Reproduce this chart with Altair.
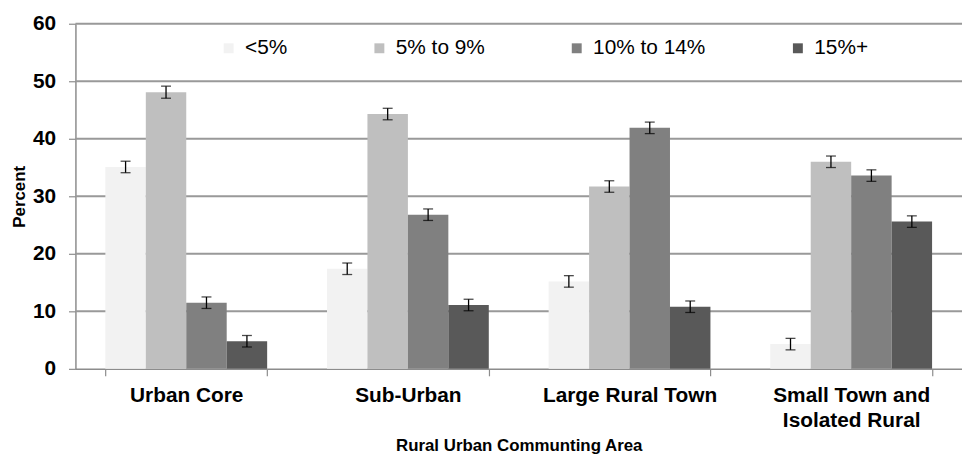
import altair as alt
import pandas as pd

categories = ["Urban Core", "Sub-Urban", "Large Rural Town", "Small Town and Isolated Rural"]
series = ["<5%", "5% to 9%", "10% to 14%", "15%+"]
colors = ["#f2f2f2", "#bfbfbf", "#808080", "#595959"]
y_ticks = [0, 10, 20, 30, 40, 50, 60]

values = {
    "<5%": [35.1, 17.4, 15.2, 4.3],
    "5% to 9%": [48.1, 44.3, 31.7, 36.0],
    "10% to 14%": [11.5, 26.8, 41.9, 33.6],
    "15%+": [4.8, 11.1, 10.8, 25.6],
}
errors = {
    "<5%": [1.0, 1.0, 1.0, 1.0],
    "5% to 9%": [1.05, 1.0, 1.0, 1.0],
    "10% to 14%": [1.0, 1.0, 1.0, 1.0],
    "15%+": [1.0, 1.0, 1.0, 1.0],
}

rows = []
for s in series:
    for c, v, e in zip(categories, values[s], errors[s]):
        rows.append({"area": c, "group": s, "value": v, "lo": v - e, "hi": v + e})
df = pd.DataFrame(rows)
grid_df = pd.DataFrame({"tick": y_ticks[1:]})

FONT = "Liberation Sans"
PLOT_W = 894
PLOT_H = 348

x = alt.X(
    "area:N",
    sort=categories,
    scale=alt.Scale(paddingInner=0.27, paddingOuter=0.135),
    axis=alt.Axis(
        title="Rural Urban Communting Area",
        labelAngle=0,
        labelFont=FONT,
        labelFontSize=21,
        labelFontWeight="bold",
        labelColor="black",
        labelLimit=400,
        labelExpr="datum.value == 'Small Town and Isolated Rural' ? ['Small Town and', 'Isolated Rural'] : datum.label",
        labelLineHeight=25,
        labelPadding=9,
        tickBand="extent",
        tickSize=7,
        tickColor="#8c8c8c",
        tickWidth=1.2,
        domainColor="#8c8c8c",
        domainWidth=1.5,
        titleFont=FONT,
        titleFontSize=17,
        titleFontWeight="bold",
        titleColor="black",
        titlePadding=7,
        grid=False,
    ),
)
xo = alt.XOffset("group:N", sort=series, scale=alt.Scale(paddingInner=0, paddingOuter=0))

yaxis = alt.Axis(
    title="Percent",
    values=y_ticks,
    grid=False,
    labelFont=FONT,
    labelFontSize=21,
    labelFontWeight="bold",
    labelColor="black",
    labelPadding=13,
    tickSize=7,
    tickColor="#8c8c8c",
    tickWidth=1.2,
    domainColor="#8c8c8c",
    domainWidth=1.5,
    titleFont=FONT,
    titleFontSize=17,
    titleFontWeight="bold",
    titleColor="black",
    titlePadding=4,
)
yscale = alt.Scale(domain=[0, 60])

color = alt.Color(
    "group:N",
    sort=series,
    scale=alt.Scale(domain=series, range=colors),
    legend=alt.Legend(
        title=None,
        orient="none",
        legendX=144,
        legendY=14,
        direction="horizontal",
        symbolType="square",
        symbolSize=100,
        symbolStrokeWidth=0,
        labelFont=FONT,
        labelFontSize=21,
        labelColor="black",
        labelOffset=6,
        columnPadding=82,
        padding=0,
    ),
)

grid = alt.Chart(grid_df).mark_rule(color="#999999", strokeWidth=2, opacity=1).encode(
    y=alt.Y("tick:Q", scale=yscale, axis=yaxis),
    x=alt.value(0),
    x2=alt.value(PLOT_W),
)

base = alt.Chart(df)
bars = base.mark_bar().encode(
    x=x, xOffset=xo, y=alt.Y("value:Q", scale=yscale, axis=yaxis), color=color
)
rules = base.mark_rule(color="black", strokeWidth=1.3).encode(
    x=x, xOffset=xo, y=alt.Y("lo:Q", scale=yscale, axis=yaxis), y2="hi:Q"
)
tick_hi = base.mark_tick(color="black", size=10, thickness=1.3).encode(
    x=x, xOffset=xo, y=alt.Y("hi:Q", scale=yscale, axis=yaxis)
)
tick_lo = base.mark_tick(color="black", size=10, thickness=1.3).encode(
    x=x, xOffset=xo, y=alt.Y("lo:Q", scale=yscale, axis=yaxis)
)

chart = (
    alt.layer(grid, bars, rules, tick_hi, tick_lo)
    .properties(
        width=PLOT_W,
        height=PLOT_H,
        autosize=alt.AutoSizeParams(type="none"),
        padding={"left": 68, "top": 14, "right": 0, "bottom": 85},
    )
    .configure_view(stroke=None)
)

chart.save("out.html", embed_options={"renderer": "svg", "actions": False})
